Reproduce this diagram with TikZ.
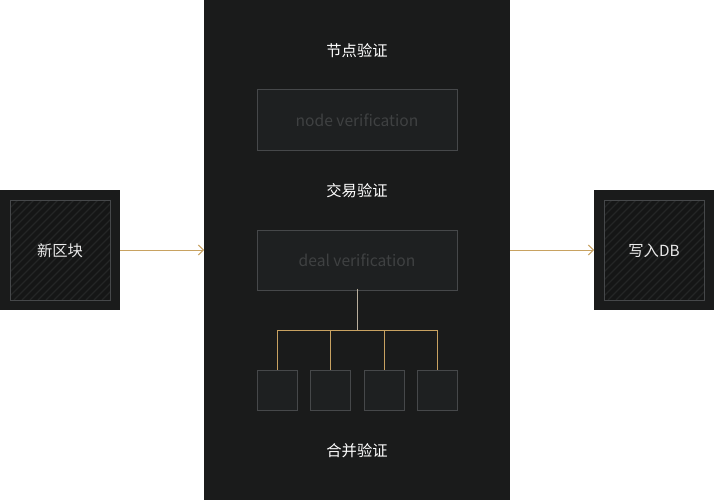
\documentclass[tikz,border=0pt]{standalone}
\usepackage{fontspec}
\setmainfont{Noto Sans CJK SC}
\usetikzlibrary{arrows.meta}
\definecolor{panel}{HTML}{1A1B1B}
\definecolor{boxfill}{HTML}{1E2021}
\definecolor{boxline}{HTML}{46484A}
\definecolor{gold}{HTML}{C8A261}
\definecolor{lightline}{HTML}{B8AE9C}
\definecolor{dimtext}{HTML}{3F4142}
\definecolor{hatch}{HTML}{242626}
\tikzset{
  panelbox/.style={fill=panel, draw=none},
  vbox/.style={fill=boxfill, draw=boxline, line width=1pt, minimum width=200pt, minimum height=60pt, inner sep=0pt, text=dimtext, font=\fontsize{15.6}{18}\selectfont},
  smallbox/.style={fill=boxfill, draw=boxline, line width=1pt, minimum width=40pt, minimum height=40pt, inner sep=0pt},
  title/.style={text=white, font=\fontsize{15.3}{18}\selectfont, inner sep=0pt},
  endlabel/.style={text=white!92!black, font=\fontsize{15.3}{18}\selectfont, inner sep=0pt},
  goldarrow/.style={draw=gold, line width=1pt, -{Straight Barb[length=5pt,width=10pt]}},
  goldline/.style={draw=gold, line width=1pt},
}
\begin{document}
\begin{tikzpicture}[x=1pt,y=-1pt]
\useasboundingbox (0,0) rectangle (714,500);
\fill[white] (0,0) rectangle (714,500);
% middle panel
\fill[panel] (204,0) rectangle (510,500);
% left block
\fill[panel] (0,190) rectangle (120,310);
\begin{scope}
\clip (10,200) rectangle (110,300);
\fill[panel!80!black] (10,200) rectangle (110,300);
\foreach \i in {0,8,...,208} { \draw[hatch, line width=1.2pt] (10+\i-100,300) -- (10+\i,200); }
\end{scope}
\draw[boxline, line width=1pt] (10,200) rectangle (110,300);
\node[endlabel] (newblock) at (60,250.5) {新区块};
\coordinate (leftout) at (120,250);
% right block
\fill[panel] (594,190) rectangle (714,310);
\begin{scope}
\clip (604,200) rectangle (704,300);
\fill[panel!80!black] (604,200) rectangle (704,300);
\foreach \i in {0,8,...,208} { \draw[hatch, line width=1.2pt] (604+\i-100,300) -- (604+\i,200); }
\end{scope}
\draw[boxline, line width=1pt] (604,200) rectangle (704,300);
\node[endlabel] (writedb) at (654,250.5) {写入DB};
\coordinate (rightin) at (594,250);
\coordinate (panelleft) at (204,250);
\coordinate (panelright) at (510,250);
% titles
\node[title] (t1) at (357,50.5) {节点验证};
\node[title] (t2) at (357,190.5) {交易验证};
\node[title] (t3) at (357,450.5) {合并验证};
% boxes
\node[vbox] (nodev) at (357,120) {node verification};
\node[vbox] (dealv) at (357,260) {deal verification};
\node[smallbox] (s1) at (277,390) {};
\node[smallbox] (s2) at (330,390) {};
\node[smallbox] (s3) at (384,390) {};
\node[smallbox] (s4) at (437,390) {};
% tree
\coordinate (split) at (357,330);
\draw[lightline, line width=1pt] ([yshift=2pt]dealv.south) -- (split);
\draw[goldline] (277,330) -- (437,330);
\foreach \s in {s1,s2,s3,s4} { \draw[goldline] (\s.north |- split) -- (\s.north); }
% arrows
\draw[goldarrow] (leftout) -- (panelleft);
\draw[goldarrow] (panelright) -- (rightin);
\end{tikzpicture}
\end{document}
